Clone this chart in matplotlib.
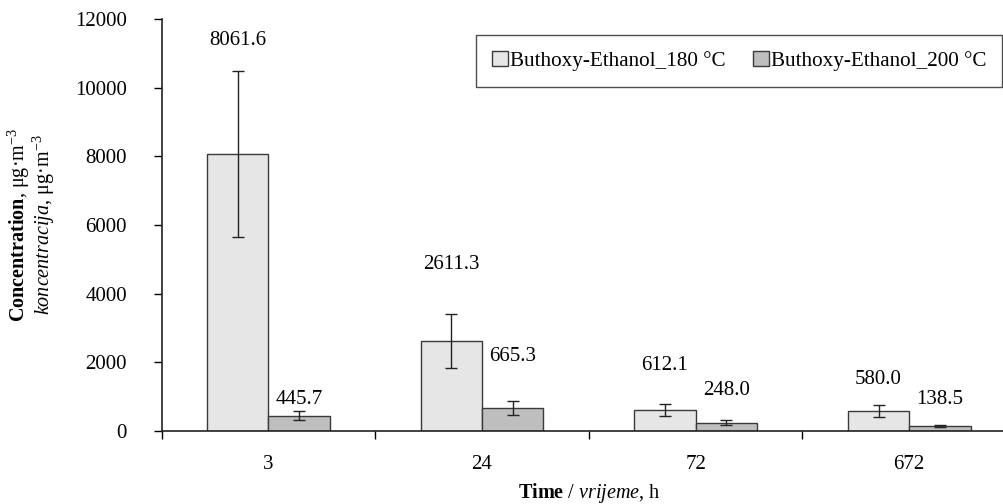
import numpy as np
import matplotlib
matplotlib.use("Agg")
import matplotlib.pyplot as plt

plt.rcParams['font.family'] = ['Liberation Serif', 'DejaVu Serif']
plt.rcParams['mathtext.fontset'] = 'custom'
plt.rcParams['mathtext.rm'] = 'Liberation Serif'
plt.rcParams['mathtext.it'] = 'Liberation Serif:italic'
plt.rcParams['mathtext.bf'] = 'Liberation Serif:bold'

# data
times = ['3', '24', '72', '672']
conc_180 = [8061.6, 2611.3, 612.1, 580.0]
conc_200 = [445.7, 665.3, 248.0, 138.5]
err_180 = [2420, 785, 185, 175]
err_200 = [135, 195, 70, 30]
# label offsets above bar top (points), placed by hand in original
off_180 = [82, 55, 32, 23]
off_200 = [12, 37, 23, 19]

fig = plt.figure(figsize=(10.04, 5.04), dpi=100)
ax = fig.add_axes([0.161, 0.1448, 0.851, 0.8175])

x = np.arange(len(times))
w = 0.287
c1 = '#e6e6e6'
c2 = '#bebebe'
ec = '#3a3a3a'

b1 = ax.bar(x - w/2, conc_180, w, color=c1, edgecolor=ec, linewidth=1.0,
            label='Buthoxy-Ethanol_180 °C', zorder=2)
b2 = ax.bar(x + w/2, conc_200, w, color=c2, edgecolor=ec, linewidth=1.0,
            label='Buthoxy-Ethanol_200 °C', zorder=2)
ax.errorbar(x - w/2, conc_180, yerr=err_180, fmt='none', ecolor='#222222',
            elinewidth=1.0, capsize=4.5, capthick=1.0, zorder=3)
ax.errorbar(x + w/2, conc_200, yerr=err_200, fmt='none', ecolor='#222222',
            elinewidth=1.0, capsize=4.5, capthick=1.0, zorder=3)

for xi, v, o in zip(x - w/2, conc_180, off_180):
    ax.annotate('%.1f' % v, (xi, v), xytext=(0, o), textcoords='offset points',
                ha='center', va='center', fontsize=15)
for xi, v, o in zip(x + w/2, conc_200, off_200):
    ax.annotate('%.1f' % v, (xi, v), xytext=(0, o), textcoords='offset points',
                ha='center', va='center', fontsize=15)

ax.set_xlim(-0.5, 3.5)
ax.set_ylim(0, 12000)
ax.set_yticks(np.arange(0, 12001, 2000))
ax.set_xticks(x)
ax.set_xticklabels(times)
ax.set_xticks(np.arange(-0.5, 3.6, 1), minor=True)
ax.tick_params(axis='x', which='major', length=0, pad=17.5, labelsize=15)
ax.tick_params(axis='x', which='minor', length=6, width=1, direction='out')
ax.tick_params(axis='y', length=6, width=1, direction='out', pad=19, labelsize=15)

for s in ['top', 'right']:
    ax.spines[s].set_visible(False)
for s in ['left', 'bottom']:
    ax.spines[s].set_linewidth(1.2)
    ax.spines[s].set_color('#222222')

ax.set_xlabel(r'$\mathbf{Time}$ / $\mathit{vrijeme}$, h', fontsize=14.5, labelpad=5)
ax.set_ylabel('$\\mathbf{Concentration}$, μg·m$^{-3}$\n$\\mathit{koncentracija}$, μg·m$^{-3}$',
              fontsize=14.5, linespacing=0.93, labelpad=13)

leg = ax.legend(loc='upper right', bbox_to_anchor=(0.9836, 0.961), ncol=2,
                borderaxespad=0, fontsize=15.2, frameon=True, fancybox=False,
                edgecolor='#222222', handlelength=0.75, handleheight=0.75,
                handletextpad=0.1, columnspacing=1.3, borderpad=0.75)
leg.get_frame().set_linewidth(1.0)

fig.savefig('out.png', dpi=100)
